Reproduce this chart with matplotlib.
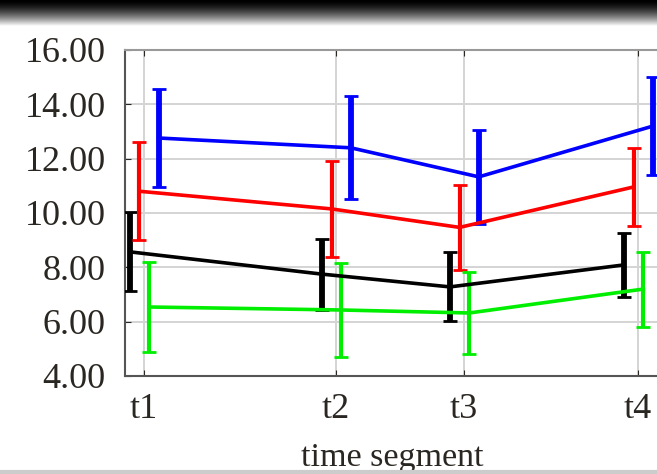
import matplotlib
matplotlib.use('Agg')
import matplotlib.pyplot as plt
import numpy as np

# data
labels = ['t1', 't2', 't3', 't4']
t_pos = [0, 1.5, 2.5, 3.86]

blue = [12.76, 12.40, 11.33, 13.20]
blue_err = [1.82, 1.90, 1.73, 1.80]
red = [10.80, 10.15, 9.47, 10.96]
red_err = [1.80, 1.77, 1.57, 1.43]
black = [8.57, 7.75, 7.28, 8.09]
black_err = [1.45, 1.31, 1.27, 1.18]
green = [6.54, 6.43, 6.32, 7.20]
green_err = [1.66, 1.73, 1.51, 1.38]

plt.rcParams['font.family'] = ['Liberation Serif', 'DejaVu Serif']

fig = plt.figure(figsize=(6.57, 4.74), dpi=100)

# dark band of the screenshot at the top
band = fig.add_axes([0, 1 - 26 / 474, 1, 26 / 474])
grad = np.linspace(0, 1, 100).reshape(-1, 1) ** 1.6
band.imshow(grad, cmap='gray', aspect='auto', vmin=0, vmax=1)
band.axis('off')

ax = fig.add_axes([125 / 657, 1 - 376 / 474, 535 / 657, 326 / 474])

x = np.array(t_pos)
series = [
    (black, black_err, 'black', -0.11, 4.2),
    (red, red_err, 'red', -0.035, 3.0),
    (green, green_err, '#00ee00', 0.04, 3.0),
    (blue, blue_err, 'blue', 0.115, 4.2),
]
for vals, errs, col, off, ew in series:
    ax.errorbar(x + off, vals, yerr=errs, color=col, lw=2.6, elinewidth=ew,
                capsize=5, capthick=2, zorder=3)

ax.set_xlim(-0.148, 4.03)
ax.set_ylim(4, 16)
ax.set_yticks(np.arange(4, 17, 2))
ax.set_yticklabels(['%.2f' % v for v in np.arange(4, 17, 2)])
ax.set_xticks(t_pos)
ax.set_xticklabels(labels)
ax.grid(True, color='#d4d4d4', lw=1.4)
ax.set_axisbelow(True)
ax.tick_params(axis='both', labelsize=26, length=4, direction='in',
               color='#aaaaaa', top=True, right=False)
ax.tick_params(axis='y', pad=14, colors='#2a2622')
ax.tick_params(axis='x', pad=12, colors='#2a2622')
ax.set_xlabel('time segment', fontsize=24.5, color='#2a2622', labelpad=12)
ax.spines['right'].set_visible(False)
ax.spines['left'].set_color('#555555')
ax.spines['bottom'].set_color('#555555')
ax.spines['top'].set_color('#999999')
for s in ax.spines.values():
    s.set_linewidth(1.5)

# light line at the bottom edge
fig.add_artist(plt.Line2D([0, 1], [2 / 474, 2 / 474], color='#cccccc', lw=3))

fig.savefig('out.png', dpi=100)
